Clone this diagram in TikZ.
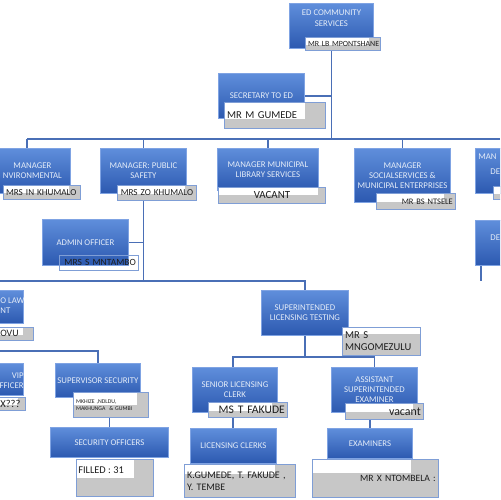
\documentclass[tikz,border=0pt]{standalone}
\usepackage{fontspec}
\setmainfont{Carlito}
\usetikzlibrary{calc,backgrounds}
\definecolor{bxtop}{HTML}{5F8EDB}
\definecolor{bxbot}{HTML}{2C59B0}
\definecolor{bxedge}{HTML}{7FA3E3}
\definecolor{bxtext}{HTML}{E4ECF8}
\definecolor{lnclr}{HTML}{4A6FB6}
\definecolor{lblgray}{HTML}{C7C7C7}
\definecolor{lbledge}{HTML}{7F9ED6}
\definecolor{lbltext}{HTML}{1E1E1E}
\tikzset{
  wfr/.store in=\wfr, hfr/.store in=\hfr, wfr=0.85, hfr=0.55,
  bluebox/.style={draw=bxedge, line width=0.5pt, top color=bxtop, bottom color=bxbot,
    text=bxtext, font=\fontsize{5}{5.8}\selectfont, align=center, inner sep=0pt},
  namebox/.style={draw=lbledge, line width=0.5pt, fill=lblgray, text=lbltext,
    inner xsep=1.5pt, inner ysep=0pt, align=center,
    path picture={
      \coordinate (pA) at ($(path picture bounding box.north west)!\wfr!(path picture bounding box.north east)$);
      \coordinate (pB) at ($(path picture bounding box.north west)!\hfr!(path picture bounding box.south west)$);
      \fill[white] (path picture bounding box.north west) rectangle (pA |- pB);
    }},
  frag/.style={text=bxtext, font=\fontsize{5}{5.8}\selectfont, inner sep=0pt},
  lbltxt/.style={text=lbltext, font=\fontsize{5.6}{6.6}\selectfont, inner sep=0pt},
  conn/.style={draw=lnclr, line width=0.7pt},
}
\newcommand\bluebx[6]{\node[bluebox, anchor=north west,
  minimum width={((#4)-(#2))*0.02cm}, minimum height={((#5)-(#3))*0.02cm}] (#1) at (#2,#3) {#6};}
\newcommand\namebx[7]{\node[namebox, anchor=north west,
  minimum width={((#4)-(#2))*0.02cm}, minimum height={((#5)-(#3))*0.02cm},
  text width={((#4)-(#2))*0.02cm-3pt}, #6] (#1) at (#2,#3) {#7};}
\begin{document}
\begin{tikzpicture}[x=0.02cm,y=-0.02cm]
\clip (0,0) rectangle (500,500);

% blue boxes
\bluebx{ed}{289}{3}{373}{48}{ED COMMUNITY\\SERVICES\\[3pt]}
\bluebx{sec}{218}{73}{304}{118}{SECRETARY TO ED}
\bluebx{env}{-6}{148}{70}{193}{MANAGER\\NVIRONMENTAL}
\bluebx{ps}{100}{148}{186}{193}{MANAGER: PUBLIC\\SAFETY}
\bluebx{lib}{217}{148}{318}{190}{MANAGER MUNICIPAL\\LIBRARY SERVICES}
\bluebx{soc}{354}{148}{450}{202}{MANAGER\\SOCIALSERVICES \&\\MUNICIPAL ENTERPRISES}
\bluebx{dev}{475}{148}{560}{193}{}
\node[frag, anchor=west] (devt1) at (478,157) {MAN};
\node[frag, anchor=west] (devt2) at (490,172) {DE};
\bluebx{adm}{42}{219}{128}{265}{ADMIN OFFICER}
\bluebx{de2}{475}{220}{560}{265}{}
\node[frag, anchor=west] (de2t) at (490,238) {DE};
\bluebx{law}{-6}{290}{23}{323}{}
\node[frag, anchor=west, align=left] (lawt) at (0,306) {O LAW\\NT};
\bluebx{slt}{261}{290}{348}{335}{SUPERINTENDED\\LICENSING TESTING}
\bluebx{vip}{-6}{363}{23}{395}{}
\node[frag, anchor=east, align=right] (vipt) at (24,381) {VIP\\FFICER};
\bluebx{sup}{55}{363}{140}{397}{SUPERVISOR SECURITY}
\bluebx{secoff}{50}{427}{168}{457}{SECURITY OFFICERS}
\bluebx{slc}{192}{367}{277}{412}{SENIOR LICENSING\\CLERK}
\bluebx{ase}{331}{367}{417}{412}{ASSISTANT\\SUPERINTENDED\\EXAMINER}
\bluebx{lc}{190}{428}{276}{463}{LICENSING CLERKS}
\bluebx{ex}{327}{428}{412}{458}{EXAMINERS}

% name labels
\namebx{edn}{305}{37}{380}{50}{font=\fontsize{4.5}{5.5}\selectfont, align=left}{MR~LB~MPONTSHANE}
\namebx{secn}{224}{102}{325}{128}{font=\fontsize{6}{7}\selectfont, align=left, wfr=0.8, hfr=0.62}{MR M GUMEDE}
\namebx{envn}{3}{185}{80}{199}{font=\fontsize{5.2}{6}\selectfont, align=left}{MRS~IN~KHUMALO}
\namebx{psn}{117}{185}{196}{200}{font=\fontsize{5.2}{6}\selectfont}{MRS~ZO~KHUMALO}
\namebx{libn}{218}{187}{325}{203}{font=\fontsize{6.2}{7}\selectfont, wfr=0.93, hfr=0.5}{VACANT}
\namebx{socn}{376}{193}{455}{209}{font=\fontsize{4.8}{5.6}\selectfont, align=right}{MR~BS~NTSELE}
\namebx{devn}{493}{186}{515}{199}{}{}
\namebx{admn}{59}{255}{138}{270}{fill=none, path picture={}, font=\fontsize{5.4}{6.2}\selectfont, align=right}{MRS~S~MNTAMBO}
\namebx{lawn}{-3}{327}{33}{340}{wfr=0.7}{}
\node[lbltxt, anchor=west] (lawt2) at (0,333.5) {OVU};
\namebx{sltn}{342}{327}{420}{355}{font=\fontsize{6}{7}\selectfont, align=left, wfr=1, hfr=0.22}{MR S\\MNGOMEZULU}
\namebx{vipn}{-3}{397}{25}{410}{wfr=0.75}{}
\node[lbltxt, anchor=west, font=\fontsize{6}{7}\selectfont] (vipt2) at (0,403.5) {X???};
\namebx{supn}{73}{392}{148}{417}{font=\fontsize{3.3}{4.2}\selectfont, align=left, hfr=0.5}{MKHIZE ,NDLDU,\\MAKHUNGA\ \ \& GUMBI}
\namebx{secoffn}{76}{459}{153}{496}{hfr=0.5, wfr=0.75}{}
\node[lbltxt, anchor=west, font=\fontsize{5.9}{7}\selectfont] (secofft) at (78,470) {FILLED : 31};
\namebx{slcn}{208}{402}{287}{417}{font=\fontsize{6.6}{7.5}\selectfont, align=right, wfr=0.8}{MS~T~FAKUDE}
\namebx{asen}{345}{403}{423}{419}{font=\fontsize{6.8}{7.5}\selectfont, align=right, wfr=0.86, hfr=0.56}{vacant}
\namebx{lcn}{184}{464}{295}{497}{font=\fontsize{5.7}{6.8}\selectfont, align=left, wfr=0.82, hfr=0.3}{K.GUMEDE, T. FAKUDE ,\\Y. TEMBE}
\namebx{exn}{312}{459}{438}{497}{font=\fontsize{5.5}{6.5}\selectfont, align=right, wfr=0.78, hfr=0.35}{MR~X~NTOMBELA~:}

% connectors
\begin{pgfonlayer}{background}
\fill[white] (0,0) rectangle (500,500);
\coordinate (hubL) at (27,139);
\coordinate (hubR) at (500,139);
\coordinate (hub2) at (0,281);
\coordinate (hub3) at (233,357);
\coordinate (hub4) at (0,351);
\coordinate (de2end) at (481,281);
\draw[conn] (ed.south) -- (ed.south |- hubL);
\draw[conn] (sec.east) -- (sec.east -| ed.south);
\draw[conn] (hubL) -- (hubR);
\draw[conn] (hubL) -- (hubL |- env.north);
\draw[conn] (ps.north |- hubL) -- (ps.north);
\draw[conn] (lib.north |- hubL) -- (lib.north);
\draw[conn] (soc.north |- hubL) -- (soc.north);
\draw[conn] (ps.south) -- (ps.south |- hub2);
\draw[conn] (adm.east) -- (adm.east -| ps.south);
\draw[conn] (hub2) -- (hub2 -| slt.north) -- (slt.north);
\draw[conn] (slt.south) -- (slt.south |- hub3);
\draw[conn] (slc.north -| hub3) -- (hub3) -- (hub3 -| ase.north) -- (ase.north);
\draw[conn] (slc.south -| hub3) -- (lc.north -| hub3);
\draw[conn] (ex.north) -- (ex.north |- ase.south);
\draw[conn] (hub4) -- (hub4 -| sup.north) -- (sup.north);
\draw[conn] (secoff.north) -- (secoff.north |- sup.south);
\draw[conn] (de2end |- de2.south) -- (de2end);
\end{pgfonlayer}
\end{tikzpicture}
\end{document}
